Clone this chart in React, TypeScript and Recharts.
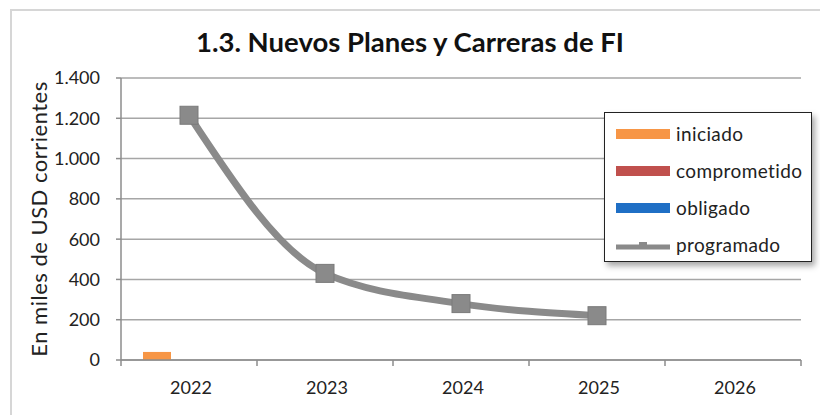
import { Bar, ComposedChart, Label, Line, XAxis, YAxis, CartesianGrid } from "recharts";

const years = ["2022", "2023", "2024", "2025", "2026"];
const iniciado = [40, null, null, null, null];
const comprometido = [null, null, null, null, null];
const obligado = [null, null, null, null, null];
const programado = [1215, 430, 280, 220, null];
const yTicks = [0, 200, 400, 600, 800, 1000, 1200, 1400];

const seriesNames = ["iniciado", "comprometido", "obligado", "programado"];
const seriesColors = ["#f79646", "#c0504d", "#1f6fc5", "#8a8a8a"];

const data = years.map((year, i) => ({
  year,
  iniciado: iniciado[i],
  comprometido: comprometido[i],
  obligado: obligado[i],
  programado: programado[i],
}));

const FONT = "Lato, 'Open Sans', sans-serif";
const fmt = (v: number) => String(v).replace(/\B(?=(\d{3})+(?!\d))/g, ".");

function SquareDot(props: any) {
  const { cx, cy, value } = props;
  if (value == null || cy == null) return null;
  return <rect x={cx - 9} y={cy - 9} width={18} height={18} fill="#8a8a8a" stroke="#7a7a7a" strokeWidth={1} />;
}

function YearTick(props: any) {
  const { x, y, payload, index } = props;
  const axisY = y - 18;
  const half = payload.offset ?? 0;
  return (
    <g>
      <line x1={x - half} x2={x - half} y1={axisY} y2={axisY + 6} stroke="#8c8c8c" strokeWidth={1.5} />
      {index === years.length - 1 && (
        <line x1={x + half} x2={x + half} y1={axisY} y2={axisY + 6} stroke="#8c8c8c" strokeWidth={1.5} />
      )}
      <text x={x + 2} y={y + 16} textAnchor="middle" fill="#222" fontSize={18} fontFamily={FONT}>
        {payload.value}
      </text>
    </g>
  );
}

function LegendBox() {
  return (
    <div
      style={{
        position: "absolute",
        left: 604,
        top: 112,
        width: 208,
        height: 150,
        border: "1px solid #222",
        background: "#fff",
        boxShadow: "3px 4px 6px rgba(0,0,0,0.35)",
        boxSizing: "border-box",
        padding: "2px 0 0 11px",
        fontFamily: FONT,
        fontSize: 19,
        letterSpacing: 0.4,
        color: "#222",
      }}
    >
      {seriesNames.map((name, i) => (
        <div key={name} style={{ display: "flex", alignItems: "center", height: 37 }}>
          <svg width={54} height={14} style={{ marginRight: 6 }}>
            {name === "programado" ? (
              <g>
                <line x1={0} x2={54} y1={9} y2={9} stroke={seriesColors[i]} strokeWidth={5} />
                <rect x={23} y={4} width={8} height={6} fill={seriesColors[i]} />
              </g>
            ) : (
              <rect x={0} y={2} width={54} height={10} fill={seriesColors[i]} />
            )}
          </svg>
          <span>{name}</span>
        </div>
      ))}
    </div>
  );
}

export default function App() {
  return (
    <div style={{ position: "absolute", left: 0, top: 0, width: 820, height: 415, background: "#fff", overflow: "hidden" }}>
      <div
        style={{
          position: "absolute",
          left: 10,
          top: 9,
          width: 840,
          height: 440,
          borderLeft: "2px solid #d6d6d6",
          borderTop: "2px solid #d6d6d6",
        }}
      />
      <div
        style={{
          position: "absolute",
          left: 0,
          top: 25,
          width: 820,
          textAlign: "center",
          fontFamily: FONT,
          fontWeight: 700,
          fontSize: 27.5,
          color: "#111",
        }}
      >
        1.3. Nuevos Planes y Carreras de FI
      </div>
      <ComposedChart
        width={820}
        height={415}
        data={data}
        margin={{ top: 78, right: 19, bottom: 25, left: 0 }}
        barGap={4}
        style={{ position: "absolute", left: 0, top: 0 }}
      >
        <CartesianGrid vertical={false} stroke="#a6a6a6" strokeWidth={1.5} />
        <XAxis
          dataKey="year"
          height={30}
          axisLine={{ stroke: "#8c8c8c", strokeWidth: 1.5 }}
          tickLine={false}
          tickSize={6}
          tickMargin={12}
          tick={<YearTick />}
          interval={0}
        />
        <YAxis
          domain={[0, 1400]}
          ticks={yTicks}
          width={121}
          tickFormatter={fmt}
          tickSize={5}
          tickMargin={16}
          axisLine={{ stroke: "#8c8c8c", strokeWidth: 1.5 }}
          tickLine={{ stroke: "#8c8c8c", strokeWidth: 1.5 }}
          tick={{ fill: "#222", fontSize: 18, fontFamily: FONT }}
        >
          <Label
            value="En miles de USD corrientes"
            angle={-90}
            position="center"
            dx={-21}
            style={{ fill: "#222", fontSize: 22, letterSpacing: 0.5, fontFamily: FONT }}
          />
        </YAxis>
        <Bar dataKey="iniciado" name="iniciado" fill={seriesColors[0]} barSize={28} isAnimationActive={false} />
        <Bar dataKey="comprometido" name="comprometido" fill={seriesColors[1]} barSize={28} isAnimationActive={false} />
        <Bar dataKey="obligado" name="obligado" fill={seriesColors[2]} barSize={28} isAnimationActive={false} />
        <Line
          dataKey="programado"
          name="programado"
          type="monotone"
          stroke={seriesColors[3]}
          strokeWidth={7}
          dot={<SquareDot />}
          activeDot={false}
          isAnimationActive={false}
        />
      </ComposedChart>
      <LegendBox />
    </div>
  );
}
